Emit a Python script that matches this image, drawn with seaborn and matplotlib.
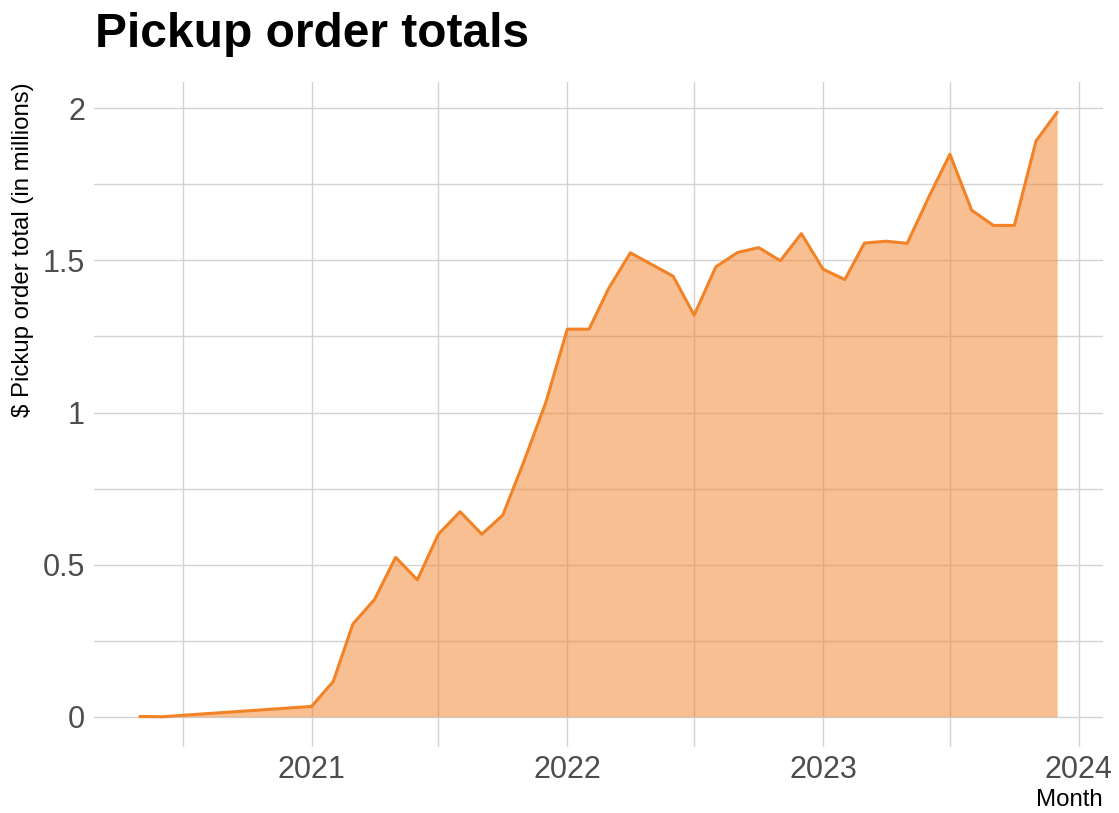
import matplotlib
matplotlib.use("Agg")
import matplotlib.pyplot as plt
import matplotlib.dates as mdates
from matplotlib.ticker import MultipleLocator, FuncFormatter
import seaborn as sns
import pandas as pd
import numpy as np

months = ["2020-05", "2020-06",
          "2021-01", "2021-02", "2021-03", "2021-04", "2021-05", "2021-06",
          "2021-07", "2021-08", "2021-09", "2021-10", "2021-11", "2021-12",
          "2022-01", "2022-02", "2022-03", "2022-04", "2022-05", "2022-06",
          "2022-07", "2022-08", "2022-09", "2022-10", "2022-11", "2022-12",
          "2023-01", "2023-02", "2023-03", "2023-04", "2023-05", "2023-06",
          "2023-07", "2023-08", "2023-09", "2023-10", "2023-11", "2023-12"]
totals = [0.001, 0.0,
          0.034, 0.116, 0.305, 0.386, 0.524, 0.450,
          0.600, 0.674, 0.600, 0.663, 0.845, 1.031,
          1.274, 1.274, 1.408, 1.525, 1.487, 1.448,
          1.320, 1.479, 1.526, 1.542, 1.499, 1.588,
          1.471, 1.437, 1.557, 1.563, 1.556, 1.709,
          1.849, 1.665, 1.615, 1.615, 1.893, 1.987]

title = "Pickup order totals"
ylabel = "$ Pickup order total (in millions)"
xlabel = "Month"

df = pd.DataFrame({"Month": pd.to_datetime(months), "total": totals})

sns.set_theme(style="white")
plt.rcParams['font.family'] = ['Liberation Sans', 'DejaVu Sans']

fig = plt.figure(figsize=(11.19, 8.13), dpi=100)
ax = fig.add_axes([94/1119, 1-747/813, (1103-94)/1119, (747-82)/813])

line_color = "#F28226"
ax.fill_between(df["Month"], df["total"], 0, color=line_color, alpha=0.5, lw=0, zorder=2)
sns.lineplot(data=df, x="Month", y="total", ax=ax, color=line_color, lw=2.2, zorder=3)

# limits with 5% expansion
xmin, xmax = df["Month"].min(), df["Month"].max()
span = xmax - xmin
ax.set_xlim(xmin - span*0.05, xmax + span*0.05)
ymax = max(totals)
ax.set_ylim(-ymax*0.05, ymax*1.05)

ax.xaxis.set_major_locator(mdates.YearLocator())
ax.xaxis.set_major_formatter(mdates.DateFormatter("%Y"))
ax.xaxis.set_minor_locator(mdates.MonthLocator(bymonth=7))
ax.yaxis.set_major_locator(MultipleLocator(0.5))
ax.yaxis.set_minor_locator(MultipleLocator(0.25))
ax.yaxis.set_major_formatter(FuncFormatter(lambda v, p: f"{v:g}"))

ax.grid(True, which="both", color="#d3d3d3", lw=1.0, zorder=1)
ax.set_axisbelow(True)
for s in ax.spines.values():
    s.set_visible(False)
ax.tick_params(axis="both", which="both", length=0, labelsize=22, colors="#4d4d4d")
ax.tick_params(axis="x", pad=5.5)
ax.tick_params(axis="y", pad=6.5)

ax.set_ylabel(ylabel, loc="top", fontsize=17.3, color="black", labelpad=6)
ax.set_xlabel(xlabel, loc="right", fontsize=17.3, color="black", labelpad=3)

fig.text(95/1119, 1-47/813, title, fontsize=34.5, fontweight="bold", ha="left", va="baseline", color="black")

fig.savefig("out.png", dpi=100, facecolor="white")
